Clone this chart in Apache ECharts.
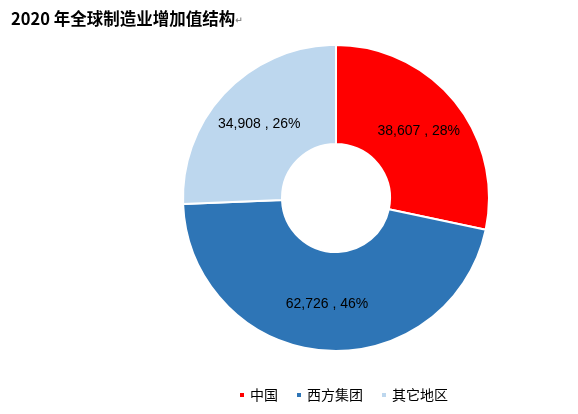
<!DOCTYPE html>
<html>
<head>
<meta charset="utf-8">
<script src="https://cdn.jsdelivr.net/npm/echarts@6/dist/echarts.min.js"></script>
<style>
  html, body { margin: 0; padding: 0; background: #fff; }
  #chart { width: 578px; height: 414px; }
</style>
</head>
<body>
<div id="chart"></div>
<script>
const categories = ['中国', '西方集团', '其它地区'];
const values = [38607, 62726, 34908];
const colors = ['#FF0000', '#2E75B6', '#BDD7EE'];

const total = values.reduce((a, b) => a + b, 0);
const pieData = categories.map((name, i) => ({
  name: name,
  value: values[i],
  itemStyle: { color: colors[i] }
}));

const myChart = echarts.init(document.getElementById('chart'));
const option = {
  animation: false,
  title: {
    text: '{t|2020 年全球制造业增加值结构}{r|↵}',
    left: 6,
    top: 5,
    textStyle: {
      rich: {
        t: { fontFamily: 'Noto Sans CJK SC', fontWeight: 'bold', fontSize: 16.5, color: '#000' },
        r: { fontFamily: 'DejaVu Sans', fontSize: 9, color: '#888', padding: [5, 0, 0, 0] }
      }
    }
  },
  legend: {
    data: categories,
    bottom: 7,
    left: 233,
    itemWidth: 6,
    itemHeight: 6,
    itemGap: 17,
    icon: 'rect',
    textStyle: { fontFamily: 'Noto Sans CJK SC', fontSize: 14, color: '#000' }
  },
  series: [{
    type: 'pie',
    center: [336, 198],
    radius: [54, 153],
    startAngle: 90,
    clockwise: true,
    itemStyle: { borderColor: '#fff', borderWidth: 2 },
    label: {
      position: 'inside',
      fontFamily: 'Liberation Sans',
      fontSize: 14,
      color: '#000',
      formatter: p => p.value.toLocaleString('en-US') + ' , ' + Math.round(p.value / total * 100) + '%'
    },
    labelLine: { show: false },
    emphasis: { disabled: true },
    data: pieData
  }]
};
myChart.setOption(option, true);
</script>
</body>
</html>
